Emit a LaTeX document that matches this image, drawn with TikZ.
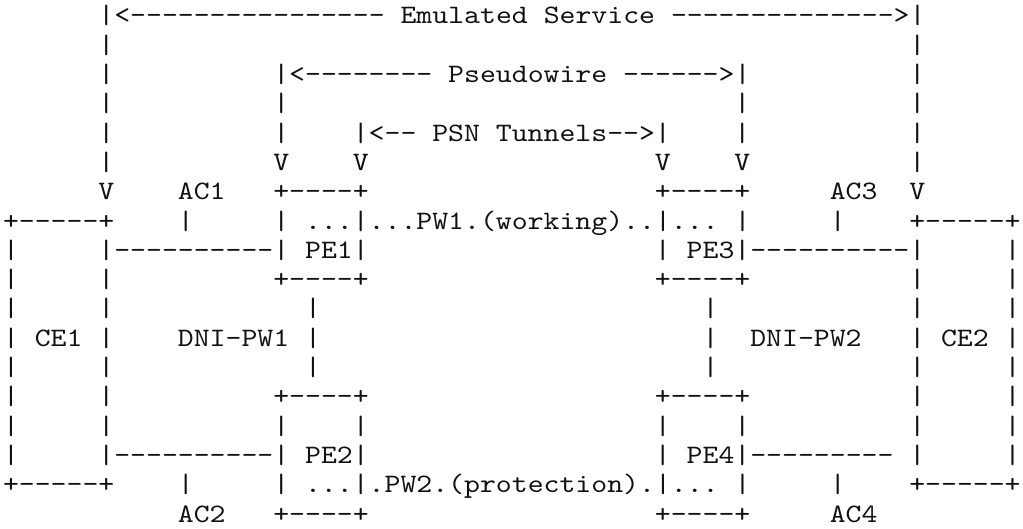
\documentclass[tikz,border=0pt]{standalone}
\usepackage{tikz}
\usepackage{xcolor}
\usepackage{fontspec}
\setmonofont{lmmono10-regular.otf}[FakeStretch=1.139]
\definecolor{glyphColor}{HTML}{111111}
\def\textService{Emulated Service}
\def\textWire{Pseudowire}
\def\textTunnel{PSN Tunnels}
\def\textWorking{(working)}
\def\textProtection{(protection)}

\begin{document}
\begin{tikzpicture}[x=1bp,y=-1bp,
  glyph/.style={anchor=base west, inner sep=0pt, outer sep=0pt, text=glyphColor,
    font=\ttfamily\fontsize{26.6bp}{29.3bp}\selectfont}]
\useasboundingbox (0, 0) rectangle (1023, 529);

% shift for the margin
\begin{scope}[shift={(3, 24)}]

% service layer
\begin{scope}[shift={(0, 0)}]
\node[glyph] (r0c6) at (95.4, 0) {|<---------------- {\textService} -------------->|};
\end{scope}
\begin{scope}[shift={(0, 29.3)}]
\node[glyph] (r1c6) at (95.4, 0) {|};
\node[glyph] (r1c57) at (906.3, 0) {|};
\end{scope}

% pseudowire layer
\begin{scope}[shift={(0, 58.6)}]
\node[glyph] (r2c6) at (95.4, 0) {|};
\node[glyph] (r2c17) at (270.3, 0) {|<-------- {\textWire} ------>|};
\node[glyph] (r2c57) at (906.3, 0) {|};
\end{scope}
\begin{scope}[shift={(0, 87.9)}]
\node[glyph] (r3c6) at (95.4, 0) {|};
\node[glyph] (r3c17) at (270.3, 0) {|};
\node[glyph] (r3c46) at (731.4, 0) {|};
\node[glyph] (r3c57) at (906.3, 0) {|};
\end{scope}

% tunnel layer
\begin{scope}[shift={(0, 117.2)}]
\node[glyph] (r4c6) at (95.4, 0) {|};
\node[glyph] (r4c17) at (270.3, 0) {|};
\node[glyph] (r4c22) at (349.8, 0) {|<-- {\textTunnel}-->|};
\node[glyph] (r4c46) at (731.4, 0) {|};
\node[glyph] (r4c57) at (906.3, 0) {|};
\end{scope}
\begin{scope}[shift={(0, 146.5)}]
\node[glyph] (r5c6) at (95.4, 0) {|};
\node[glyph] (r5c17) at (270.3, 0) {V};
\node[glyph] (r5c22) at (349.8, 0) {V};
\node[glyph] (r5c41) at (651.9, 0) {V};
\node[glyph] (r5c46) at (731.4, 0) {V};
\node[glyph] (r5c57) at (906.3, 0) {|};
\end{scope}

% working layer
\begin{scope}[shift={(0, 175.8)}]
\node[glyph] (r6c6) at (95.4, 0) {V};
\node[glyph] (r6c11) at (174.9, 0) {AC1};
\node[glyph] (r6c17) at (270.3, 0) {+----+};
\node[glyph] (r6c41) at (651.9, 0) {+----+};
\node[glyph] (r6c52) at (826.8, 0) {AC3};
\node[glyph] (r6c57) at (906.3, 0) {V};
\end{scope}
\begin{scope}[shift={(0, 205.1)}]
\node[glyph] (r7c0) at (0, 0) {+-----+};
\node[glyph] (r7c11) at (174.9, 0) {|};
\node[glyph] (r7c17) at (270.3, 0) {| ...|...PW1.{\textWorking}..|... |};
\node[glyph] (r7c52) at (826.8, 0) {|};
\node[glyph] (r7c57) at (906.3, 0) {+-----+};
\end{scope}
\begin{scope}[shift={(0, 234.4)}]
\node[glyph] (r8c0) at (0, 0) {|};
\node[glyph] (r8c6) at (95.4, 0) {|----------| PE1|};
\node[glyph] (r8c41) at (651.9, 0) {| PE3|----------|};
\node[glyph] (r8c63) at (1001.7, 0) {|};
\end{scope}
\begin{scope}[shift={(0, 263.7)}]
\node[glyph] (r9c0) at (0, 0) {|};
\node[glyph] (r9c6) at (95.4, 0) {|};
\node[glyph] (r9c17) at (270.3, 0) {+----+};
\node[glyph] (r9c41) at (651.9, 0) {+----+};
\node[glyph] (r9c57) at (906.3, 0) {|};
\node[glyph] (r9c63) at (1001.7, 0) {|};
\end{scope}

% dni layer
\begin{scope}[shift={(0, 293.0)}]
\node[glyph] (r10c0) at (0, 0) {|};
\node[glyph] (r10c6) at (95.4, 0) {|};
\node[glyph] (r10c19) at (302.1, 0) {|};
\node[glyph] (r10c44) at (699.6, 0) {|};
\node[glyph] (r10c57) at (906.3, 0) {|};
\node[glyph] (r10c63) at (1001.7, 0) {|};
\end{scope}
\begin{scope}[shift={(0, 322.3)}]
\node[glyph] (r11c0) at (0, 0) {| CE1 |};
\node[glyph] (r11c11) at (174.9, 0) {DNI-PW1};
\node[glyph] (r11c19) at (302.1, 0) {|};
\node[glyph] (r11c44) at (699.6, 0) {|};
\node[glyph] (r11c47) at (747.3, 0) {DNI-PW2};
\node[glyph] (r11c57) at (906.3, 0) {| CE2 |};
\end{scope}
\begin{scope}[shift={(0, 351.6)}]
\node[glyph] (r12c0) at (0, 0) {|};
\node[glyph] (r12c6) at (95.4, 0) {|};
\node[glyph] (r12c19) at (302.1, 0) {|};
\node[glyph] (r12c44) at (699.6, 0) {|};
\node[glyph] (r12c57) at (906.3, 0) {|};
\node[glyph] (r12c63) at (1001.7, 0) {|};
\end{scope}

% protection layer
\begin{scope}[shift={(0, 380.9)}]
\node[glyph] (r13c0) at (0, 0) {|};
\node[glyph] (r13c6) at (95.4, 0) {|};
\node[glyph] (r13c17) at (270.3, 0) {+----+};
\node[glyph] (r13c41) at (651.9, 0) {+----+};
\node[glyph] (r13c57) at (906.3, 0) {|};
\node[glyph] (r13c63) at (1001.7, 0) {|};
\end{scope}
\begin{scope}[shift={(0, 410.2)}]
\node[glyph] (r14c0) at (0, 0) {|};
\node[glyph] (r14c6) at (95.4, 0) {|};
\node[glyph] (r14c17) at (270.3, 0) {|};
\node[glyph] (r14c22) at (349.8, 0) {|};
\node[glyph] (r14c41) at (651.9, 0) {|};
\node[glyph] (r14c46) at (731.4, 0) {|};
\node[glyph] (r14c57) at (906.3, 0) {|};
\node[glyph] (r14c63) at (1001.7, 0) {|};
\end{scope}
\begin{scope}[shift={(0, 439.5)}]
\node[glyph] (r15c0) at (0, 0) {|};
\node[glyph] (r15c6) at (95.4, 0) {|----------| PE2|};
\node[glyph] (r15c41) at (651.9, 0) {| PE4|---------};
\node[glyph] (r15c57) at (906.3, 0) {|};
\node[glyph] (r15c63) at (1001.7, 0) {|};
\end{scope}
\begin{scope}[shift={(0, 468.8)}]
\node[glyph] (r16c0) at (0, 0) {+-----+};
\node[glyph] (r16c11) at (174.9, 0) {|};
\node[glyph] (r16c17) at (270.3, 0) {| ...|.PW2.{\textProtection}.|... |};
\node[glyph] (r16c52) at (826.8, 0) {|};
\node[glyph] (r16c57) at (906.3, 0) {+-----+};
\end{scope}
\begin{scope}[shift={(0, 498.1)}]
\node[glyph] (r17c11) at (174.9, 0) {AC2};
\node[glyph] (r17c17) at (270.3, 0) {+----+};
\node[glyph] (r17c41) at (651.9, 0) {+----+};
\node[glyph] (r17c52) at (826.8, 0) {AC4};
\end{scope}

\end{scope}
\end{tikzpicture}
\end{document}
